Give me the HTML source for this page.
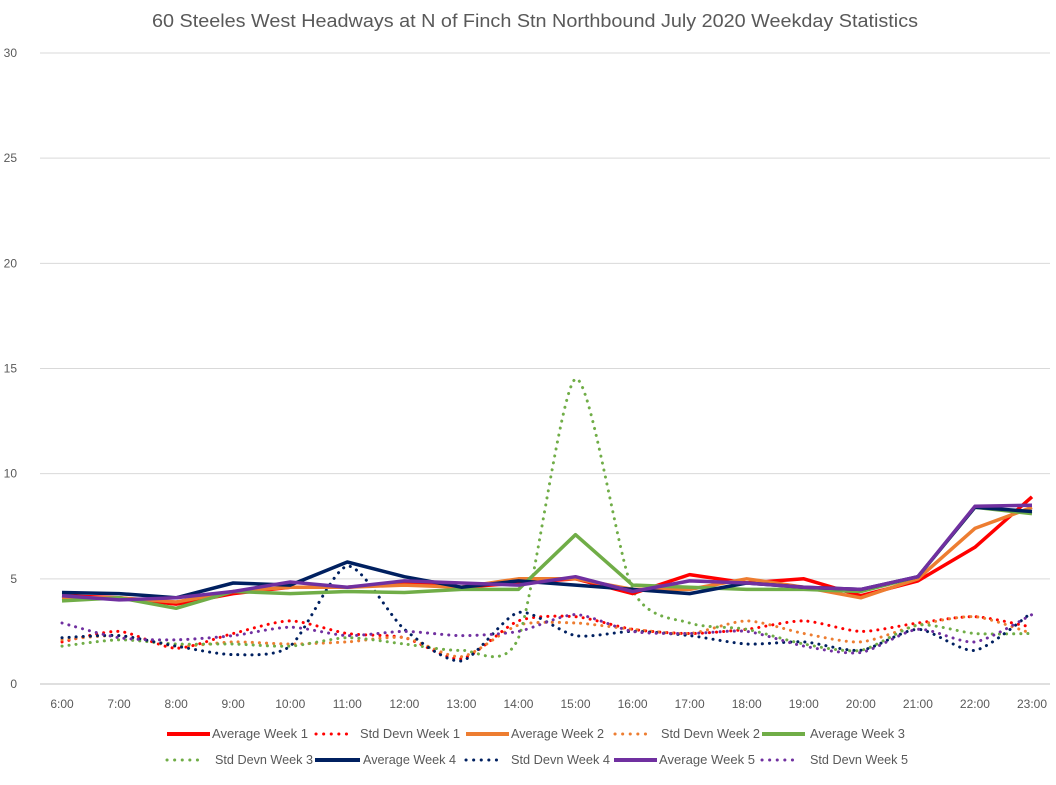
<!DOCTYPE html>
<html><head><meta charset="utf-8"><style>
body{margin:0;background:#fff;font-family:"Liberation Sans",sans-serif;}
svg text{font-family:"Liberation Sans",sans-serif;}
</style></head><body>
<svg id="chart" width="1056" height="780" xmlns="http://www.w3.org/2000/svg">
<rect width="1056" height="780" fill="#fff"/>
<text x="152" y="27" textLength="766" lengthAdjust="spacingAndGlyphs" font-size="18" fill="#595959">60 Steeles West Headways at N of Finch Stn Northbound July 2020 Weekday Statistics</text>
<g id="grid"></g><g id="series"></g><g id="legend"></g>
</svg>
<script>
const categories=["6:00","7:00","8:00","9:00","10:00","11:00","12:00","13:00","14:00","15:00","16:00","17:00","18:00","19:00","20:00","21:00","22:00","23:00"];
const yTicks=[0,5,10,15,20,25,30];
const avgW1=[4.2,4.1,3.8,4.3,4.6,4.6,4.8,4.6,4.8,5.0,4.3,5.2,4.8,5.0,4.2,4.9,6.5,8.9];
const sdW1=[2.0,2.5,1.7,2.4,3.0,2.4,2.2,1.2,3.0,3.2,2.6,2.4,2.6,3.0,2.5,2.9,3.2,2.7];
const avgW2=[4.1,4.1,3.9,4.4,4.6,4.6,4.7,4.6,5.0,5.0,4.5,4.5,5.0,4.6,4.1,5.0,7.4,8.4];
const sdW2=[2.1,2.3,1.8,2.0,1.9,2.0,2.2,1.3,2.8,2.9,2.6,2.4,3.0,2.4,2.0,2.8,3.2,2.4];
const avgW3=[3.95,4.1,3.6,4.4,4.3,4.4,4.35,4.5,4.5,7.1,4.7,4.6,4.5,4.5,4.4,5.1,8.4,8.1];
const sdW3=[1.8,2.1,1.9,1.9,1.8,2.2,1.9,1.6,2.2,14.5,4.5,2.9,2.6,1.9,1.6,2.8,2.4,2.4];
const avgW4=[4.35,4.3,4.1,4.8,4.7,5.8,5.1,4.6,4.9,4.7,4.5,4.3,4.8,4.6,4.5,5.1,8.4,8.2];
const sdW4=[2.2,2.3,1.8,1.4,1.8,5.6,2.6,1.1,3.4,2.3,2.5,2.3,1.9,2.0,1.6,2.6,1.6,3.4];
const avgW5=[4.2,4.0,4.1,4.4,4.85,4.6,4.9,4.8,4.7,5.1,4.4,4.9,4.8,4.6,4.5,5.1,8.45,8.5];
const sdW5=[2.9,2.2,2.1,2.3,2.7,2.3,2.5,2.3,2.5,3.3,2.5,2.4,2.5,1.8,1.5,2.6,2.0,3.3];

const NS="http://www.w3.org/2000/svg";
const x0=62,x1=1032,y0=684,y30=53;
const xs=i=>x0+i*(x1-x0)/(categories.length-1);
const ys=v=>y0-v*(y0-y30)/30;
function mk(tag,attrs,parent){const e=document.createElementNS(NS,tag);for(const k in attrs)e.setAttribute(k,attrs[k]);parent.appendChild(e);return e;}
const grid=document.getElementById('grid');
yTicks.forEach(t=>{
  const l=mk('line',{x1:40,x2:1050,y1:ys(t),y2:ys(t),stroke:t===0?'#bfbfbf':'#d9d9d9','stroke-width':1},grid);
  
  
  const tx=mk('text',{x:17,y:ys(t)+4,'text-anchor':'end','font-size':12,fill:'#595959'},grid);
  tx.textContent=t;
  
  
});
categories.forEach((c,i)=>{
  const tx=mk('text',{x:xs(i),y:708,'text-anchor':'middle','font-size':12,fill:'#595959'},grid);
  tx.textContent=c;
  
  
});
function straight(d){return d.map((v,i)=>(i?'L':'M')+xs(i).toFixed(1)+','+ys(v).toFixed(1)).join('');}
function smooth(d){const p=d.map((v,i)=>[xs(i),ys(v)]);let s='M'+p[0][0]+','+p[0][1];
  for(let i=0;i<p.length-1;i++){const a=p[i-1]||p[i],b=p[i],c=p[i+1],e=p[i+2]||c;
    const c1=[b[0]+(c[0]-a[0])/8,b[1]+(c[1]-a[1])/8],c2=[c[0]-(e[0]-b[0])/8,c[1]-(e[1]-b[1])/8];
    s+='C'+c1[0].toFixed(1)+','+c1[1].toFixed(1)+' '+c2[0].toFixed(1)+','+c2[1].toFixed(1)+' '+c[0].toFixed(1)+','+c[1].toFixed(1);}
  return s;}
const colors=['#ff0000','#ed7d31','#70ad47','#002060','#7030a0'];
const avgs=[avgW1,avgW2,avgW3,avgW4,avgW5],sds=[sdW1,sdW2,sdW3,sdW4,sdW5];
const g=document.getElementById('series');
for(let k=0;k<5;k++){
  const p=mk('path',{d:smooth(sds[k]),fill:'none',stroke:colors[k],'stroke-width':3,'stroke-dasharray':'0.1 7','stroke-linecap':'round'},g);
  
  
}
for(let k=0;k<5;k++){
  const p=mk('path',{d:straight(avgs[k]),fill:'none',stroke:colors[k],'stroke-width':3.5,'stroke-linejoin':'round'},g);
  
  
}
const lg=document.getElementById('legend');
// [lineStart,lineEnd,y,color,dotted,label,textX,textW]
const entries=[
 [167,210,734,0,false,'Average Week 1',212,96],[316,352,734,0,true,'Std Devn Week 1',360,100],[466,509,734,1,false,'Average Week 2',511,93],[615,650,734,1,true,'Std Devn Week 2',661,99],[762,805,734,2,false,'Average Week 3',810,95],
 [167,200,760,2,true,'Std Devn Week 3',215,98],[315,360,760,3,false,'Average Week 4',363,93],[466,504,760,3,true,'Std Devn Week 4',511,99],[614,657,760,4,false,'Average Week 5',659,96],[762,795,760,4,true,'Std Devn Week 5',810,98]];
entries.forEach(e=>{
  const l=mk('line',{x1:e[0],x2:e[1],y1:e[2],y2:e[2],stroke:colors[e[3]],'stroke-width':e[4]?3:4,'stroke-dasharray':e[4]?'0.1 7.5':'none','stroke-linecap':e[4]?'round':'butt'},lg);
  
  
  const t=mk('text',{x:e[6],y:e[2]+4,'font-size':13,fill:'#595959',textLength:e[7],lengthAdjust:'spacingAndGlyphs'},lg);
  t.textContent=e[5];
  
  
});
</script>
</body></html>
